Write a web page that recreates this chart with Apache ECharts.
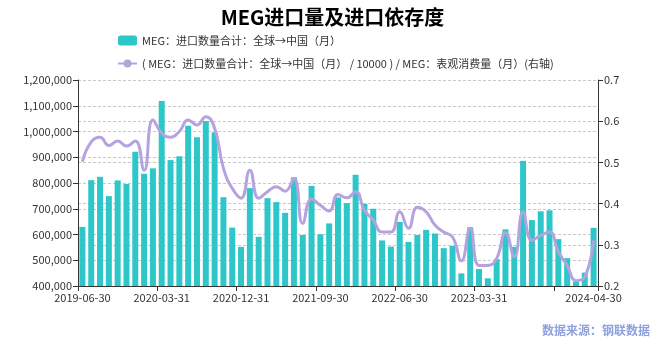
<!DOCTYPE html>
<html>
<head>
<meta charset="utf-8">
<script src="https://cdn.jsdelivr.net/npm/echarts@6/dist/echarts.min.js"></script>
<style>html,body{margin:0;padding:0;background:#fff;}#c{width:665px;height:348px;}</style>
</head>
<body>
<div id="c"></div>
<script>
const categories = [
  '2019-06-30','2019-07-31','2019-08-31','2019-09-30','2019-10-31','2019-11-30','2019-12-31',
  '2020-01-31','2020-02-29','2020-03-31','2020-04-30','2020-05-31','2020-06-30','2020-07-31','2020-08-31','2020-09-30','2020-10-31','2020-11-30','2020-12-31',
  '2021-01-31','2021-02-28','2021-03-31','2021-04-30','2021-05-31','2021-06-30','2021-07-31','2021-08-31','2021-09-30','2021-10-31','2021-11-30','2021-12-31',
  '2022-01-31','2022-02-28','2022-03-31','2022-04-30','2022-05-31','2022-06-30','2022-07-31','2022-08-31','2022-09-30','2022-10-31','2022-11-30','2022-12-31',
  '2023-01-31','2023-02-28','2023-03-31','2023-04-30','2023-05-31','2023-06-30','2023-07-31','2023-08-31','2023-09-30','2023-10-31','2023-11-30','2023-12-31',
  '2024-01-31','2024-02-29','2024-03-31','2024-04-30'
];
const importVolume = [
  629500, 811000, 824000, 749000, 810000, 796000, 921000,
  836000, 857000, 1118000, 889000, 904000, 1022000, 978000, 1041000, 997000, 745000, 627000, 552000,
  780000, 591000, 741000, 726000, 684000, 822000, 598000, 789000, 601000, 643000, 744000, 722000,
  832000, 719000, 700000, 577000, 553000, 649000, 571000, 598000, 618000, 604000, 547000, 556000,
  449000, 628000, 466000, 430000, 504000, 620000, 552000, 886000, 656000, 690000, 694000, 582000,
  508000, 416000, 452000, 626000
];
const dependency = [
  0.502, 0.550, 0.561, 0.541, 0.552, 0.540, 0.552,
  0.481, 0.603, 0.571, 0.561, 0.575, 0.603, 0.591, 0.611, 0.583, 0.486, 0.437, 0.413,
  0.481, 0.413, 0.429, 0.441, 0.430, 0.461, 0.352, 0.411, 0.396, 0.382, 0.422, 0.414,
  0.429, 0.384, 0.360, 0.331, 0.331, 0.380, 0.340, 0.391, 0.380, 0.348, 0.331, 0.319,
  0.261, 0.340, 0.250, 0.250, 0.267, 0.330, 0.271, 0.380, 0.311, 0.323, 0.331, 0.283,
  0.250, 0.213, 0.222, 0.311
];
const seriesNames = [
  'MEG：进口数量合计：全球→中国（月）',
  '( MEG：进口数量合计：全球→中国（月） / 10000 ) / MEG：表观消费量（月）(右轴)'
];
const leftTicks = {min: 400000, max: 1200000, interval: 100000};
const rightTicks = {min: 0.2, max: 0.7, interval: 0.1};

const FONT = '"Noto Sans CJK SC", "Noto Sans", sans-serif';
const chart = echarts.init(document.getElementById('c'));
const splitStyle = {show: true, lineStyle: {color: '#c8c8c8', type: [3, 2], width: 1}};
chart.setOption({
  animation: false,
  textStyle: {fontFamily: FONT},
  title: {
    text: 'MEG进口量及进口依存度',
    left: 'center', top: 2,
    textStyle: {fontSize: 20, fontWeight: 'bold', color: '#000', fontFamily: FONT}
  },
  legend: {
    orient: 'vertical', left: 117, top: 33, padding: 0,
    itemWidth: 19, itemHeight: 10, itemGap: 8,
    textStyle: {fontSize: 11, color: '#333', fontFamily: FONT, lineHeight: 15},
    data: [
      {name: seriesNames[0], icon: 'roundRect'},
      {name: seriesNames[1]}
    ]
  },
  grid: {left: 78, right: 67, top: 80, bottom: 62, containLabel: false},
  xAxis: {
    type: 'category', data: categories, boundaryGap: true,
    axisLine: {show: true, lineStyle: {color: '#333'}},
    axisTick: {show: true, interval: (i) => i % 9 === 0, lineStyle: {color: '#333'}},
    axisLabel: {
      interval: (i) => (i % 9 === 0 && i !== 54) || i === categories.length - 1,
      color: '#333', fontSize: 11, fontFamily: FONT, margin: 6
    },
    splitLine: {show: false}
  },
  yAxis: [
    {
      type: 'value', min: leftTicks.min, max: leftTicks.max, interval: leftTicks.interval,
      axisLine: {show: true, lineStyle: {color: '#333'}},
      axisTick: {show: true, lineStyle: {color: '#333'}},
      axisLabel: {color: '#333', fontSize: 11, fontFamily: FONT, margin: 6},
      splitLine: splitStyle
    },
    {
      type: 'value', min: rightTicks.min, max: rightTicks.max, interval: rightTicks.interval,
      position: 'right',
      axisLine: {show: true, lineStyle: {color: '#333'}},
      axisTick: {show: true, lineStyle: {color: '#333'}},
      axisLabel: {color: '#333', fontSize: 11, fontFamily: FONT, margin: 6,
        formatter: (v) => (Math.round(v * 10) / 10).toString()},
      splitLine: splitStyle
    }
  ],
  series: [
    {
      name: seriesNames[0], type: 'bar', data: importVolume, yAxisIndex: 0,
      barWidth: 6, itemStyle: {color: '#2ec7c9'}
    },
    {
      name: seriesNames[1], type: 'line', data: dependency, yAxisIndex: 1,
      smooth: true, showSymbol: false, symbol: 'circle', symbolSize: 8,
      lineStyle: {color: '#b6a2de', width: 3}, itemStyle: {color: '#b6a2de'}
    }
  ],
  graphic: [{
    type: 'text', right: 15, top: 324,
    style: {text: '数据来源：钢联数据', fill: '#8fa0dd', font: 'bold 12px "Noto Sans CJK SC", sans-serif'}
  }]
});
</script>
</body>
</html>
